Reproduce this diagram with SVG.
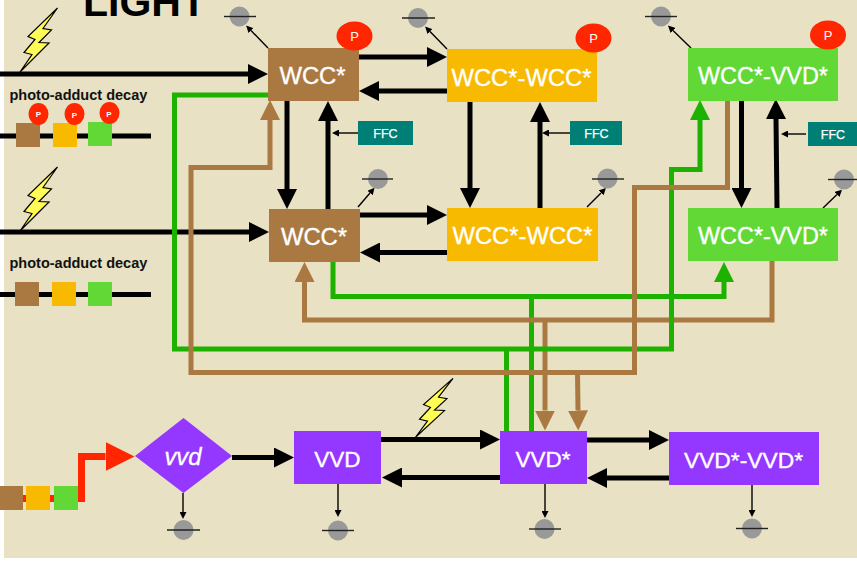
<svg xmlns="http://www.w3.org/2000/svg" xmlns:xlink="http://www.w3.org/1999/xlink" width="857" height="562" viewBox="0 0 857 562">
<style>
text{font-family:"Liberation Sans",Arial,sans-serif}
.n{fill:#fff;stroke:#fff;stroke-width:.35;font-size:23.800px;text-anchor:middle}
.f{fill:#fff;stroke:#fff;stroke-width:.25;font-size:12.500px;text-anchor:middle}
.p{fill:#fff;font-size:13px;text-anchor:middle}
.ps{fill:#fff;font-size:8px;font-weight:bold;text-anchor:middle}
.d{fill:#111;font-size:14.500px;font-weight:bold}
.k{fill:none;stroke:#000;stroke-width:5}
.g{fill:none;stroke:#1DB100;stroke-width:5}
.b{fill:none;stroke:#AA7942;stroke-width:5}
.t{fill:none;stroke:#000;stroke-width:1.400}
.brown{fill:#AA7942}.orange{fill:#F8BA00}.green{fill:#61D836}.purple{fill:#9437FF}.teal{fill:#007F76}.red{fill:#FF2600}
.sink{fill:#999}
.bar{stroke:#222;stroke-width:1.400}
.bolt{fill:#FFFC55;stroke:#000;stroke-width:1.200}
</style>
<defs>
<marker id="hk" markerUnits="userSpaceOnUse" markerWidth="20" markerHeight="20" refX="0" refY="10" orient="auto"><path d="M0 0L20 10L0 20Z" fill="#000"/></marker>
<marker id="hg" markerUnits="userSpaceOnUse" markerWidth="20" markerHeight="20" refX="0" refY="10" orient="auto"><path d="M0 0L20 10L0 20Z" fill="#1DB100"/></marker>
<marker id="hb" markerUnits="userSpaceOnUse" markerWidth="20" markerHeight="20" refX="0" refY="10" orient="auto"><path d="M0 0L20 10L0 20Z" fill="#AA7942"/></marker>
<marker id="hr" markerUnits="userSpaceOnUse" markerWidth="29" markerHeight="29" refX="0" refY="14.500" orient="auto"><path d="M0 0L29 14.500L0 29Z" fill="#FF2600"/></marker>
<marker id="ht" markerUnits="userSpaceOnUse" markerWidth="7" markerHeight="7" refX="0" refY="3.500" orient="auto"><path d="M0 0L7 3.500L0 7Z" fill="#000"/></marker>
<polygon id="boltShape" class="bolt" points="57.500,8 28,36.500 35,39.500 24,52.500 32,54.500 20,72 49,43 39,42.500 51.500,30 43,28.500"/>
</defs>
<rect x="4" y="0" width="853" height="558" fill="#E8E1C3"/>
<text x="83" y="16" font-size="41" font-weight="bold" fill="#000">LIGHT</text>
<use href="#boltShape" xlink:href="#boltShape"/>
<use href="#boltShape" xlink:href="#boltShape" transform="translate(0,159)"/>
<use href="#boltShape" xlink:href="#boltShape" transform="translate(395.500,371) scale(1,0.92)"/>
<g id="connectors">
<path class="k" d="M0 74H248" marker-end="url(#hk)"/>
<path class="k" d="M0 232H249" marker-end="url(#hk)"/>
<path class="k" d="M0 136H151"/>
<path class="k" d="M0 294.500H151"/>
<path class="k" d="M359 57H427" marker-end="url(#hk)"/>
<path class="k" d="M447 91H379" marker-end="url(#hk)"/>
<path class="k" d="M360 215H427" marker-end="url(#hk)"/>
<path class="k" d="M447 252.500H380" marker-end="url(#hk)"/>
<path class="k" d="M287 101V189" marker-end="url(#hk)"/>
<path class="k" d="M328 209V121" marker-end="url(#hk)"/>
<path class="k" d="M470 102V188" marker-end="url(#hk)"/>
<path class="k" d="M540 208V122" marker-end="url(#hk)"/>
<path class="k" d="M741.500 100V188" marker-end="url(#hk)"/>
<path class="k" d="M777 208L776 119" marker-end="url(#hk)"/>
<path class="k" d="M232 457.500H274" marker-end="url(#hk)"/>
<path class="k" d="M381 439.500H480" marker-end="url(#hk)"/>
<path class="k" d="M500 477.500H402" marker-end="url(#hk)"/>
<path class="k" d="M587 440H649" marker-end="url(#hk)"/>
<path class="k" d="M669 478H607" marker-end="url(#hk)"/>
<path d="M23 498.500H54" fill="none" stroke="#FF2600" stroke-width="7"/>
<path d="M78 498.500H81.500V456.500H105.500" fill="none" stroke="#FF2600" stroke-width="7" marker-end="url(#hr)"/>
<path class="g" d="M333 262V296.500H724V282" marker-end="url(#hg)"/>
<path class="g" d="M531.500 296.500V431"/>
<path class="b" d="M772 261V320H304.500V282" marker-end="url(#hb)"/>
<path class="b" d="M545 320V410.500" marker-end="url(#hb)"/>
<path class="g" d="M268 95H174.500V349H671.500V169.500H700V120" marker-end="url(#hg)"/>
<path class="g" d="M506.500 349V431"/>
<path class="b" d="M727.500 100V187.500H634.500V372.500H191V167.500H270V120" marker-end="url(#hb)"/>
<path class="b" d="M577.500 372.500L578 410.500" marker-end="url(#hb)"/>
<path class="t" d="M268 48L251 30.500" marker-end="url(#ht)"/>
<path class="t" d="M447 49L430 31.500" marker-end="url(#ht)"/>
<path class="t" d="M691 48L673 30.500" marker-end="url(#ht)"/>
<path class="t" d="M358 207L370 193" marker-end="url(#ht)"/>
<path class="t" d="M587 207L601 193" marker-end="url(#ht)"/>
<path class="t" d="M823 208L837 194.500" marker-end="url(#ht)"/>
<path class="t" d="M183 493V512" marker-end="url(#ht)"/>
<path class="t" d="M338 484V510" marker-end="url(#ht)"/>
<path class="t" d="M545 483V511" marker-end="url(#ht)"/>
<path class="t" d="M752 484V510" marker-end="url(#ht)"/>
<path class="t" d="M358 133H339" marker-end="url(#ht)"/>
<path class="t" d="M570 133H549" marker-end="url(#ht)"/>
<path class="t" d="M806 134H788" marker-end="url(#ht)"/>
</g>
<g id="wcc-top"><rect class="brown" x="268" y="48" width="91" height="53"/><text class="n" x="312.500" y="83.500">WCC*</text></g>
<g id="p-wcc-top"><ellipse class="red" cx="354.500" cy="36" rx="18" ry="14.500"/><text class="p" x="354.500" y="41">P</text></g>
<g id="wccwcc-top"><rect class="orange" x="447" y="49" width="150" height="53"/><text class="n" x="521.500" y="85.500">WCC*-WCC*</text></g>
<g id="p-wccwcc-top"><ellipse class="red" cx="593.500" cy="38" rx="18" ry="14.500"/><text class="p" x="593.500" y="42.500">P</text></g>
<g id="wccvvd-top"><rect class="green" x="688" y="48" width="150" height="53"/><text class="n" style="font-size:23.400px" x="763" y="83.500">WCC*-VVD*</text></g>
<g id="p-wccvvd-top"><ellipse class="red" cx="828" cy="35" rx="18" ry="14.500"/><text class="p" x="828" y="39.500">P</text></g>
<g id="wcc-mid"><rect class="brown" x="269" y="209" width="91" height="53"/><text class="n" x="314" y="245">WCC*</text></g>
<g id="wccwcc-mid"><rect class="orange" x="447" y="208" width="151" height="53"/><text class="n" x="522.500" y="243.500">WCC*-WCC*</text></g>
<g id="wccvvd-mid"><rect class="green" x="688" y="208" width="150" height="53"/><text class="n" style="font-size:23.400px" x="763" y="244">WCC*-VVD*</text></g>
<g id="vvd-gene"><path d="M135 456L183.500 418L232 456L183.500 493Z" fill="#9437FF"/><text class="n" x="183" y="465" font-style="italic">vvd</text></g>
<g id="vvd"><rect class="purple" x="294" y="431" width="87" height="53"/><text class="n" style="font-size:22.500px" x="337.500" y="466.500">VVD</text></g>
<g id="vvd-star"><rect class="purple" x="500" y="431" width="87" height="53"/><text class="n" style="font-size:22.500px" x="543" y="466.500">VVD*</text></g>
<g id="vvdvvd"><rect class="purple" x="669" y="432" width="150" height="53"/><text class="n" style="font-size:22.800px" x="743.500" y="467.500">VVD*-VVD*</text></g>
<g id="ffc1"><rect class="teal" x="358" y="121" width="55" height="24"/><text class="f" x="385.500" y="137.500">FFC</text></g>
<g id="ffc2"><rect class="teal" x="570" y="121" width="52" height="24"/><text class="f" x="596.500" y="137.500">FFC</text></g>
<g id="ffc3"><rect class="teal" x="808" y="122" width="49" height="24"/><text class="f" x="833" y="138.500">FFC</text></g>
<g id="sink1"><circle class="sink" cx="239.500" cy="16.500" r="10"/><path class="bar" d="M224 16.500H256"/></g>
<g id="sink2"><circle class="sink" cx="418" cy="18" r="10"/><path class="bar" d="M402 18H435"/></g>
<g id="sink3"><circle class="sink" cx="661" cy="16.500" r="10"/><path class="bar" d="M645 16.500H677"/></g>
<g id="sink4"><circle class="sink" cx="378" cy="179" r="10"/><path class="bar" d="M362 179H393"/></g>
<g id="sink5"><circle class="sink" cx="607.500" cy="178.500" r="10"/><path class="bar" d="M592 179H624"/></g>
<g id="sink6"><circle class="sink" cx="844" cy="179.500" r="10"/><path class="bar" d="M828 179.500H857"/></g>
<g id="sink7"><circle class="sink" cx="183.500" cy="530" r="10"/><path class="bar" d="M167 530H200"/></g>
<g id="sink8"><circle class="sink" cx="338" cy="530.500" r="10"/><path class="bar" d="M322 530.500H354"/></g>
<g id="sink9"><circle class="sink" cx="544.500" cy="529" r="10"/><path class="bar" d="M529 529H561"/></g>
<g id="sink10"><circle class="sink" cx="752" cy="528.500" r="10"/><path class="bar" d="M736 528.500H768"/></g>
<g id="decay1">
<text class="d" x="9.500" y="100">photo-adduct decay</text>
<rect class="brown" x="16" y="123" width="24" height="24"/>
<rect class="orange" x="53" y="123" width="24" height="24"/>
<rect class="green" x="88" y="122" width="24" height="24"/>
<ellipse class="red" cx="38.500" cy="114" rx="10" ry="11"/><text class="ps" x="38.500" y="117">P</text>
<ellipse class="red" cx="74.500" cy="114" rx="10" ry="11"/><text class="ps" x="74.500" y="118">P</text>
<ellipse class="red" cx="109.500" cy="113" rx="10" ry="11"/><text class="ps" x="109" y="117">P</text>
</g>
<g id="decay2">
<text class="d" x="9.500" y="268">photo-adduct decay</text>
<rect class="brown" x="15" y="282" width="24" height="24"/>
<rect class="orange" x="52" y="282" width="24" height="24"/>
<rect class="green" x="88" y="282" width="24" height="24"/>
</g>
<g id="transcript">
<rect class="brown" x="0" y="486" width="23" height="24"/>
<rect class="orange" x="26" y="486" width="24" height="24"/>
<rect class="green" x="54" y="486" width="24" height="24"/>
</g>
</svg>
